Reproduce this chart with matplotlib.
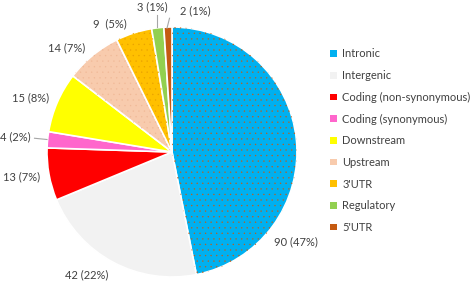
import matplotlib.pyplot as plt

categories = ['Intronic', 'Intergenic', 'Coding (non-synonymous)', 'Coding (synonymous)',
              'Downstream', 'Upstream', "3'UTR", 'Regulatory', "5'UTR"]
counts = [90, 42, 13, 4, 15, 14, 9, 3, 2]
percents = [47, 22, 7, 2, 8, 7, 5, 1, 1]

colors = ['#00B0F0', '#F2F2F2', '#FF0000', '#FF66CC', '#FFFF00',
          '#F8CBAD', '#FFC000', '#92D050', '#C55A11']
hatch_colors = ['#C55A11', '#E4E4E4', '#FF0000', '#FF66CC', '#FFFF00',
                '#F0B896', '#E8A000', '#92D050', '#C55A11']

# label positions (data coords) and optional leader line ends
label_pos = [(0.99, -0.72), (-0.68, -0.985), (-1.2, -0.2), (-1.255, 0.125),
             (-1.135, 0.43), (-0.84, 0.83), (-0.50, 1.025), (-0.16, 1.165),
             (0.185, 1.13)]
leaders = {3: ((-1.10, 0.11), (-1.0, 0.10)),
           7: ((-0.12, 1.10), (-0.12, 1.0)),
           8: ((-0.02, 1.07), (-0.04, 0.99))}

plt.rcParams['font.family'] = ['Lato', 'DejaVu Sans']
plt.rcParams['hatch.linewidth'] = 0.2
text_color = '#404040'

fig = plt.figure(figsize=(4.73, 2.81), dpi=100)
ax = fig.add_axes([47 / 473, 4 / 281, 250 / 473, 250 / 281])

wedges, _ = ax.pie(counts, colors=colors, startangle=90, counterclock=False,
                   radius=1, wedgeprops=dict(edgecolor='white', linewidth=1.2))

# dotted texture on top of the slices
overlay, _ = ax.pie(counts, colors=['none'] * len(counts), startangle=90,
                    counterclock=False, radius=1,
                    wedgeprops=dict(linewidth=0))
for i, w in enumerate(overlay):
    w.set_facecolor('none')
    w.set_edgecolor(hatch_colors[i])
    w.set_linewidth(0)
    if i in (0, 5, 6):
        w.set_hatch('...')

for i, (x, y) in enumerate(label_pos):
    gap = '  ' if counts[i] == 9 else ' '
    ax.text(x, y, f'{counts[i]}{gap}({percents[i]}%)', ha='center', va='center',
            fontsize=8, color=text_color, clip_on=False)
for i, (p0, p1) in leaders.items():
    ax.plot([p0[0], p1[0]], [p0[1], p1[1]], color='#A6A6A6', lw=0.8,
            clip_on=False)

ax.set_xlim(-1, 1)
ax.set_ylim(-1, 1)
ax.set_aspect('equal')
ax.axis('off')

handles = [plt.Rectangle((0, 0), 1, 1, facecolor=c, edgecolor='none') for c in colors]
leg = fig.legend(handles, categories, loc='upper left', bbox_to_anchor=(326 / 473, 1 - 44 / 281),
                 frameon=False, fontsize=8, handlelength=0.55, handleheight=0.55,
                 handletextpad=0.5, labelspacing=0.96, borderaxespad=0)
for t in leg.get_texts():
    t.set_color(text_color)

fig.savefig('out.png', dpi=100)
